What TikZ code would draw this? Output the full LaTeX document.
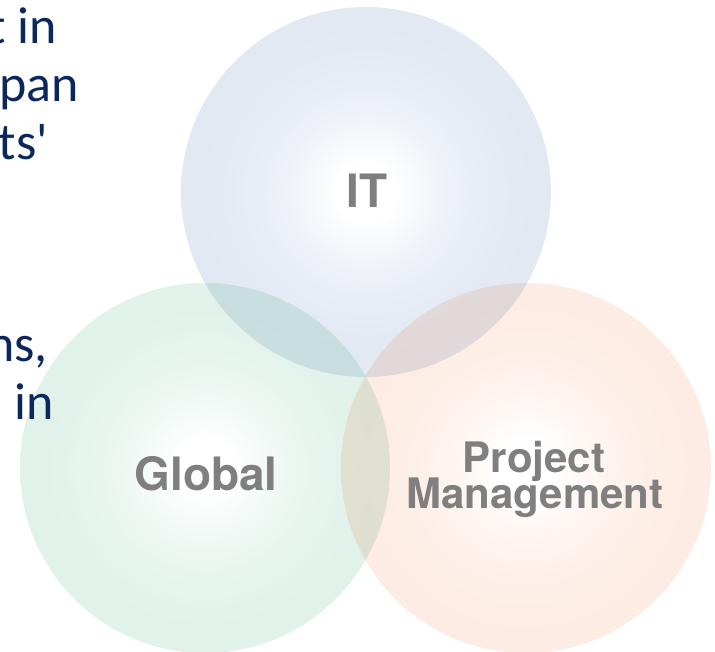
\documentclass[tikz,border=0pt]{standalone}
\usepackage{fontspec}
\setmainfont{Carlito}
\newfontfamily\sidefont{Carlito}
\newfontfamily\labfont{TeX Gyre Heros}
\definecolor{itcol}{RGB}{226,233,243}
\definecolor{glcol}{RGB}{225,242,234}
\definecolor{pmcol}{RGB}{253,236,227}
\definecolor{labgray}{RGB}{127,127,127}
\definecolor{navy}{RGB}{10,40,94}
\pgfdeclareradialshading{itshade}{\pgfpointorigin}{color(0bp)=(white); color(4bp)=(white); color(9bp)=(itcol!45!white); color(14bp)=(itcol!75!white); color(19bp)=(itcol!93!white); color(23bp)=(itcol); color(50bp)=(itcol)}
\pgfdeclareradialshading{glshade}{\pgfpointorigin}{color(0bp)=(white); color(4bp)=(white); color(9bp)=(glcol!45!white); color(14bp)=(glcol!75!white); color(19bp)=(glcol!93!white); color(23bp)=(glcol); color(50bp)=(glcol)}
\pgfdeclareradialshading{pmshade}{\pgfpointorigin}{color(0bp)=(white); color(4bp)=(white); color(9bp)=(pmcol!45!white); color(14bp)=(pmcol!75!white); color(19bp)=(pmcol!93!white); color(23bp)=(pmcol); color(50bp)=(pmcol)}
\begin{document}
\begin{tikzpicture}[x=1pt,y=-1pt,
  ball/.style={circle, inner sep=0pt, minimum size=370pt, draw=none, shade},
  lab/.style={font=\labfont\bfseries\fontsize{46}{46}\selectfont, text=labgray, inner sep=0pt, anchor=base},
  pmlab/.style={lab, font=\labfont\bfseries\fontsize{42}{42}\selectfont},
  side/.style={font=\sidefont\fontsize{52}{58}\selectfont, text=navy, inner sep=0pt, anchor=base west}]
\useasboundingbox (0,0) rectangle (715,652);
\fill[white] (0,0) rectangle (715,652);
\begin{scope}[blend group=multiply]
  \node[ball, shading=itshade] (itc) at (366,192) {};
  \node[ball, shading=glshade] (glc) at (205,468) {};
  \node[ball, shading=pmshade] (pmc) at (526,468) {};
\end{scope}
\begin{scope}
  \clip (0,0) rectangle (715,652);
  \node[side] (s1) at (-12,44) {t in};
  \node[side] (s2) at (-0.5,102) {pan};
  \node[side] (s3) at (-1.5,160) {ts'};
  \node[side] (s4) at (-13,361) {ns,};
  \node[side] (s5) at (14.5,419) {in};
\end{scope}
\node[lab] (itl) at (367,208) {IT};
\node[lab] (gll) at (206,490) {Global};
\node[pmlab, text depth=0pt] (pml1) at (534,472) {Project};
\node[pmlab, text height=20pt] (pml2) at (535,508) {Management};
\end{tikzpicture}
\end{document}
